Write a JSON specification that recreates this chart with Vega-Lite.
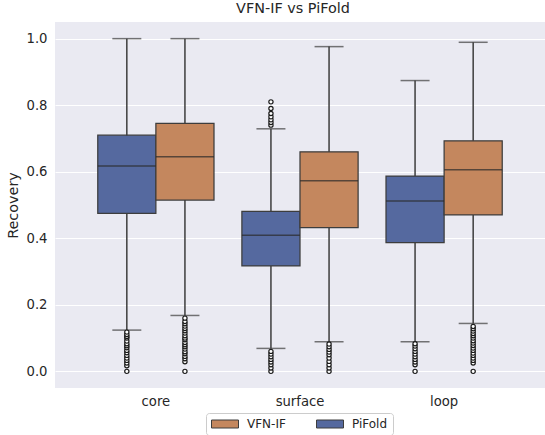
{
  "$schema": "https://vega.github.io/schema/vega-lite/v6.json",
  "width": 490,
  "height": 366,
  "autosize": {"type": "none"},
  "padding": {"left": 55, "top": 22, "right": 0, "bottom": 47},
  "background": "white",
  "title": {"text": "VFN-IF vs PiFold", "font": "DejaVu Sans", "fontSize": 14.4, "fontWeight": "normal", "color": "#262626", "offset": 6, "dx": -7},
  "datasets": {
    "stats": [
      {"cat": "core", "model": "PiFold", "lower": 0.124, "q1": 0.475, "median": 0.617, "q3": 0.71, "upper": 1.0},
      {"cat": "core", "model": "VFN-IF", "lower": 0.168, "q1": 0.515, "median": 0.645, "q3": 0.745, "upper": 1.0},
      {"cat": "surface", "model": "PiFold", "lower": 0.069, "q1": 0.317, "median": 0.409, "q3": 0.481, "upper": 0.729},
      {"cat": "surface", "model": "VFN-IF", "lower": 0.089, "q1": 0.432, "median": 0.573, "q3": 0.66, "upper": 0.976},
      {"cat": "loop", "model": "PiFold", "lower": 0.089, "q1": 0.387, "median": 0.512, "q3": 0.587, "upper": 0.874},
      {"cat": "loop", "model": "VFN-IF", "lower": 0.144, "q1": 0.47, "median": 0.606, "q3": 0.693, "upper": 0.989}
    ],
    "outliers": [
      {"cat": "core", "model": "PiFold", "value": 0.0},
      {"cat": "core", "model": "PiFold", "value": 0.017},
      {"cat": "core", "model": "PiFold", "value": 0.025},
      {"cat": "core", "model": "PiFold", "value": 0.033},
      {"cat": "core", "model": "PiFold", "value": 0.04},
      {"cat": "core", "model": "PiFold", "value": 0.048},
      {"cat": "core", "model": "PiFold", "value": 0.056},
      {"cat": "core", "model": "PiFold", "value": 0.063},
      {"cat": "core", "model": "PiFold", "value": 0.071},
      {"cat": "core", "model": "PiFold", "value": 0.077},
      {"cat": "core", "model": "PiFold", "value": 0.083},
      {"cat": "core", "model": "PiFold", "value": 0.091},
      {"cat": "core", "model": "PiFold", "value": 0.1},
      {"cat": "core", "model": "PiFold", "value": 0.105},
      {"cat": "core", "model": "PiFold", "value": 0.111},
      {"cat": "core", "model": "PiFold", "value": 0.118},
      {"cat": "core", "model": "VFN-IF", "value": 0.0},
      {"cat": "core", "model": "VFN-IF", "value": 0.029},
      {"cat": "core", "model": "VFN-IF", "value": 0.038},
      {"cat": "core", "model": "VFN-IF", "value": 0.045},
      {"cat": "core", "model": "VFN-IF", "value": 0.053},
      {"cat": "core", "model": "VFN-IF", "value": 0.059},
      {"cat": "core", "model": "VFN-IF", "value": 0.067},
      {"cat": "core", "model": "VFN-IF", "value": 0.074},
      {"cat": "core", "model": "VFN-IF", "value": 0.08},
      {"cat": "core", "model": "VFN-IF", "value": 0.087},
      {"cat": "core", "model": "VFN-IF", "value": 0.095},
      {"cat": "core", "model": "VFN-IF", "value": 0.1},
      {"cat": "core", "model": "VFN-IF", "value": 0.107},
      {"cat": "core", "model": "VFN-IF", "value": 0.115},
      {"cat": "core", "model": "VFN-IF", "value": 0.122},
      {"cat": "core", "model": "VFN-IF", "value": 0.129},
      {"cat": "core", "model": "VFN-IF", "value": 0.136},
      {"cat": "core", "model": "VFN-IF", "value": 0.143},
      {"cat": "core", "model": "VFN-IF", "value": 0.15},
      {"cat": "core", "model": "VFN-IF", "value": 0.16},
      {"cat": "surface", "model": "PiFold", "value": 0.0},
      {"cat": "surface", "model": "PiFold", "value": 0.01},
      {"cat": "surface", "model": "PiFold", "value": 0.02},
      {"cat": "surface", "model": "PiFold", "value": 0.028},
      {"cat": "surface", "model": "PiFold", "value": 0.036},
      {"cat": "surface", "model": "PiFold", "value": 0.044},
      {"cat": "surface", "model": "PiFold", "value": 0.052},
      {"cat": "surface", "model": "PiFold", "value": 0.06},
      {"cat": "surface", "model": "PiFold", "value": 0.74},
      {"cat": "surface", "model": "PiFold", "value": 0.748},
      {"cat": "surface", "model": "PiFold", "value": 0.756},
      {"cat": "surface", "model": "PiFold", "value": 0.765},
      {"cat": "surface", "model": "PiFold", "value": 0.775},
      {"cat": "surface", "model": "PiFold", "value": 0.79},
      {"cat": "surface", "model": "PiFold", "value": 0.81},
      {"cat": "surface", "model": "VFN-IF", "value": 0.0},
      {"cat": "surface", "model": "VFN-IF", "value": 0.01},
      {"cat": "surface", "model": "VFN-IF", "value": 0.02},
      {"cat": "surface", "model": "VFN-IF", "value": 0.03},
      {"cat": "surface", "model": "VFN-IF", "value": 0.04},
      {"cat": "surface", "model": "VFN-IF", "value": 0.05},
      {"cat": "surface", "model": "VFN-IF", "value": 0.058},
      {"cat": "surface", "model": "VFN-IF", "value": 0.066},
      {"cat": "surface", "model": "VFN-IF", "value": 0.074},
      {"cat": "surface", "model": "VFN-IF", "value": 0.082},
      {"cat": "loop", "model": "PiFold", "value": 0.0},
      {"cat": "loop", "model": "PiFold", "value": 0.02},
      {"cat": "loop", "model": "PiFold", "value": 0.028},
      {"cat": "loop", "model": "PiFold", "value": 0.036},
      {"cat": "loop", "model": "PiFold", "value": 0.044},
      {"cat": "loop", "model": "PiFold", "value": 0.052},
      {"cat": "loop", "model": "PiFold", "value": 0.06},
      {"cat": "loop", "model": "PiFold", "value": 0.068},
      {"cat": "loop", "model": "PiFold", "value": 0.076},
      {"cat": "loop", "model": "PiFold", "value": 0.083},
      {"cat": "loop", "model": "VFN-IF", "value": 0.0},
      {"cat": "loop", "model": "VFN-IF", "value": 0.025},
      {"cat": "loop", "model": "VFN-IF", "value": 0.033},
      {"cat": "loop", "model": "VFN-IF", "value": 0.04},
      {"cat": "loop", "model": "VFN-IF", "value": 0.048},
      {"cat": "loop", "model": "VFN-IF", "value": 0.055},
      {"cat": "loop", "model": "VFN-IF", "value": 0.063},
      {"cat": "loop", "model": "VFN-IF", "value": 0.07},
      {"cat": "loop", "model": "VFN-IF", "value": 0.078},
      {"cat": "loop", "model": "VFN-IF", "value": 0.085},
      {"cat": "loop", "model": "VFN-IF", "value": 0.092},
      {"cat": "loop", "model": "VFN-IF", "value": 0.1},
      {"cat": "loop", "model": "VFN-IF", "value": 0.107},
      {"cat": "loop", "model": "VFN-IF", "value": 0.114},
      {"cat": "loop", "model": "VFN-IF", "value": 0.121},
      {"cat": "loop", "model": "VFN-IF", "value": 0.128},
      {"cat": "loop", "model": "VFN-IF", "value": 0.135}
    ]
  },
  "encoding": {
    "x": {"field": "cat", "type": "nominal", "scale": {"domain": ["core", "surface", "loop"], "paddingInner": 0, "paddingOuter": 0.2},
      "axis": {"title": null, "labelAngle": 0, "labelPadding": 7, "grid": false}},
    "xOffset": {"field": "model", "type": "nominal", "scale": {"domain": ["PiFold", "VFN-IF"], "paddingInner": 0, "paddingOuter": 0.24}}
  },
  "layer": [
    {
      "data": {"name": "stats"},
      "mark": {"type": "rule", "color": "#3d3d3d", "strokeWidth": 1.5},
      "encoding": {
        "y": {"field": "lower", "type": "quantitative", "scale": {"domain": [-0.05, 1.05], "nice": false, "zero": false},
          "axis": {"title": "Recovery", "values": [0, 0.2, 0.4, 0.6, 0.8, 1.0], "format": ".1f", "labelPadding": 8, "titlePadding": 6}},
        "y2": {"field": "upper"}
      }
    },
    {
      "data": {"name": "stats"},
      "mark": {"type": "bar", "stroke": "#3d3d3d", "strokeWidth": 1.25, "opacity": 1},
      "encoding": {
        "y": {"field": "q1", "type": "quantitative"},
        "y2": {"field": "q3"},
        "color": {"field": "model", "type": "nominal",
          "scale": {"domain": ["PiFold", "VFN-IF"], "range": ["#55699F", "#C4875E"]},
          "legend": {"values": ["VFN-IF", "PiFold"]}}
      }
    },
    {
      "data": {"name": "stats"},
      "mark": {"type": "tick", "color": "#2a2a2a", "size": 58, "thickness": 1.5},
      "encoding": {"y": {"field": "median", "type": "quantitative"}}
    },
    {
      "data": {"name": "stats"},
      "mark": {"type": "tick", "color": "#3d3d3d", "size": 29, "thickness": 1.5},
      "encoding": {"y": {"field": "upper", "type": "quantitative"}}
    },
    {
      "data": {"name": "stats"},
      "mark": {"type": "tick", "color": "#3d3d3d", "size": 29, "thickness": 1.5},
      "encoding": {"y": {"field": "lower", "type": "quantitative"}}
    },
    {
      "data": {"name": "outliers"},
      "mark": {"type": "point", "shape": "circle", "filled": false, "stroke": "#1a1a1a", "strokeWidth": 1.2, "size": 18, "fill": "white", "fillOpacity": 1, "opacity": 1},
      "encoding": {"y": {"field": "value", "type": "quantitative"}}
    }
  ],
  "config": {
    "view": {"fill": "#EAEAF2", "stroke": null},
    "font": "DejaVu Sans",
    "axis": {"domain": false, "ticks": false, "gridColor": "white", "gridWidth": 1, "labelFont": "DejaVu Sans", "labelFontSize": 13.2, "labelColor": "#262626", "titleFont": "DejaVu Sans", "titleFontSize": 14.4, "titleFontWeight": "normal", "titleColor": "#262626"},
    "legend": {
      "orient": "none", "legendX": 151, "legendY": 391, "direction": "horizontal", "title": null,
      "symbolType": "M-2.7,-0.8H2.7V0.8H-2.7Z", "symbolSize": 100, "symbolStrokeColor": "#3d3d3d", "symbolStrokeWidth": 1, "symbolOpacity": 1,
      "symbolOffset": 8, "labelOffset": 16, "columnPadding": 28,
      "labelFont": "DejaVu Sans", "labelFontSize": 12, "labelColor": "#262626",
      "padding": 5, "strokeColor": "#cccccc", "fillColor": "white", "cornerRadius": 3
    }
  }
}
